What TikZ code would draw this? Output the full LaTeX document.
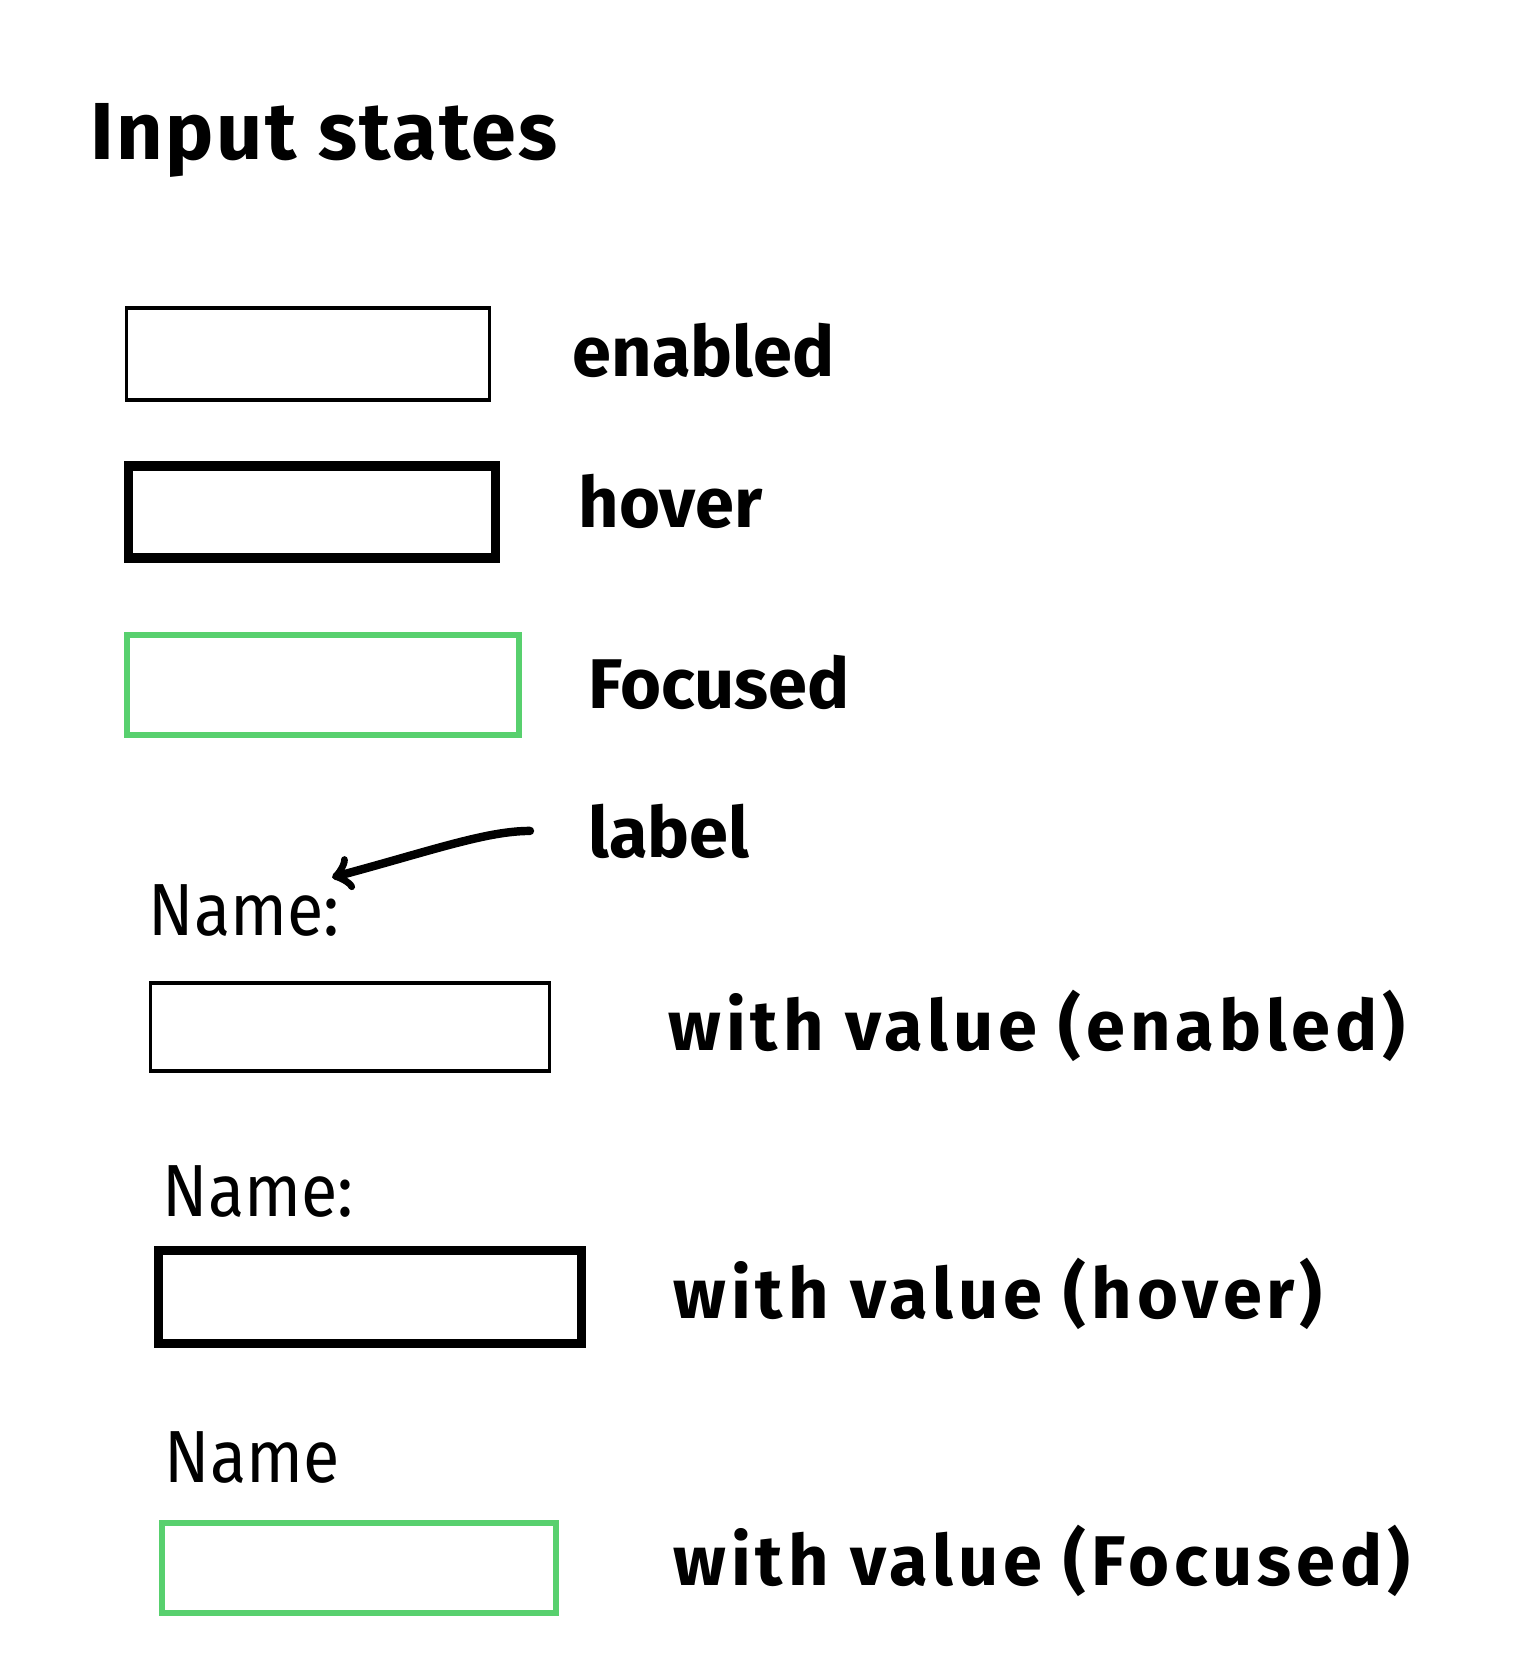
\documentclass[tikz,border=0pt]{standalone}
\usepackage{fontspec}
\setmainfont{Fira Sans}
\definecolor{focusgreen}{RGB}{88,208,110}

\begin{document}
\begin{tikzpicture}[x=0.01cm, y=-0.01cm,
  field/.style={draw, rectangle, line width=1pt, minimum width=#1, minimum height=0.92cm, inner sep=0pt},
  hoverfield/.style={field=#1, line width=2.6pt},
  focusfield/.style={field=#1, draw=focusgreen, line width=1.9pt},
  statetext/.style={anchor=base west, inner sep=0pt, font=\fontsize{20}{24}\selectfont\bfseries},
  valuetext/.style={statetext, font=\fontsize{20}{24}\selectfont\bfseries\addfontfeature{LetterSpace=7}},
  nametext/.style={anchor=base west, inner sep=0pt, font=\fontsize{21}{25}\selectfont\addfontfeature{FakeStretch=0.9}}]
\useasboundingbox (0,0) rectangle (1536,1662);
\node[anchor=base west, inner sep=0pt, font=\fontsize{23}{27}\selectfont\bfseries\addfontfeature{LetterSpace=3}] (title) at (90,159) {Input states};

% plain states
\node[field=3.63cm] (enabled) at (308,354) {};
\node[hoverfield=3.66cm] (hover) at (312,512) {};
\node[focusfield=3.92cm, minimum height=1.0cm] (focused) at (323,685) {};
\node[statetext] (tenabled) at (572,376) {enabled};
\node[statetext] (thover) at (578,527) {hover};
\node[statetext] (tfocused) at (588,708) {Focused};

% with label and value
\node[statetext] (lbl) at (588,857) {label};
\node[nametext] (name1) at (148,935) {Name:};
\draw[->, line width=2.4pt, line cap=round, shorten <=0.58cm] (lbl.west) to[out=180, in=15] ([xshift=-0.08cm, yshift=0.06cm]name1.north east);
\node[field=3.99cm, minimum height=0.88cm] (value1) at (350,1027) {};
\node[valuetext] (tvalue1) at (668,1050) {with value (enabled)};

\node[nametext] (name2) at (162,1216) {Name:};
\node[hoverfield=4.22cm, minimum height=0.93cm] (value2) at (370,1297) {};
\node[valuetext] (tvalue2) at (673,1318) {with value (hover)};

\node[nametext] (name3) at (164,1482) {Name};
\node[focusfield=3.94cm, minimum height=0.90cm] (value3) at (359,1568) {};
\node[valuetext] (tvalue3) at (673,1585) {with value (Focused)};
\end{tikzpicture}
\end{document}
